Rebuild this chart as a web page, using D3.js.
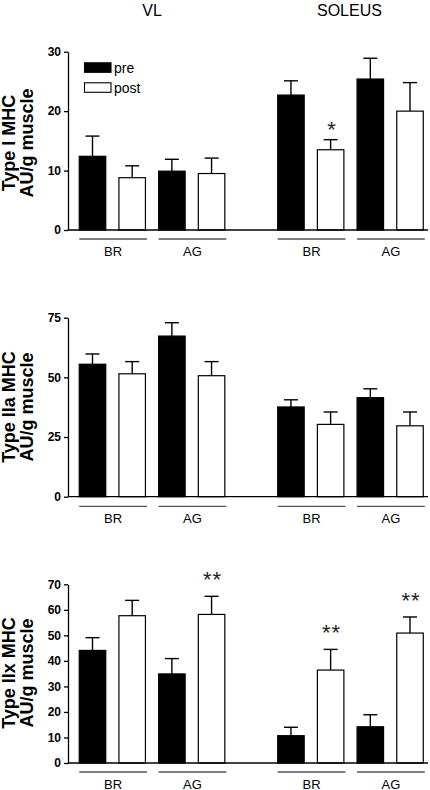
<!DOCTYPE html>
<html>
<head>
<meta charset="utf-8">
<script src="https://cdn.jsdelivr.net/npm/d3@7"></script>
<style>
  html, body { margin: 0; padding: 0; background: #fff; }
  svg { display: block; font-family: "Liberation Sans", Arial, sans-serif; }
</style>
</head>
<body>
<svg id="chart" width="430" height="790"></svg>
<script>
// ---------- data ----------
const muscles = ["VL", "SOLEUS"];
const groups = ["BR", "AG"];
const conditions = ["pre", "post"];
// bar order: VL-BR-pre, VL-BR-post, VL-AG-pre, VL-AG-post, SOL-BR-pre, SOL-BR-post, SOL-AG-pre, SOL-AG-post
const typeI_mean  = [12.4, 8.8, 9.9, 9.5, 22.7, 13.5, 25.4, 20.0];
const typeI_err   = [3.4, 2.0, 2.0, 2.6, 2.4, 1.7, 3.5, 4.8];
const typeI_sig   = ["", "", "", "", "", "*", "", ""];
const typeI_ticks = [0, 10, 20, 30];

const typeIIa_mean  = [55.5, 51.5, 67.3, 50.7, 37.6, 30.3, 41.5, 29.7];
const typeIIa_err   = [4.3, 5.1, 5.6, 5.9, 3.0, 5.2, 3.7, 5.8];
const typeIIa_sig   = ["", "", "", "", "", "", "", ""];
const typeIIa_ticks = [0, 25, 50, 75];

const typeIIx_mean  = [44.1, 57.7, 34.9, 58.2, 10.7, 36.4, 14.2, 50.9];
const typeIIx_err   = [5.0, 6.0, 6.0, 7.1, 3.3, 8.1, 4.7, 6.3];
const typeIIx_sig   = ["", "", "", "**", "", "**", "", "**"];
const typeIIx_ticks = [0, 10, 20, 30, 40, 50, 60, 70];

const yLabels = [["Type I MHC", "AU/g muscle"], ["Type IIa MHC", "AU/g muscle"], ["Type IIx MHC", "AU/g muscle"]];

// ---------- layout ----------
const svg = d3.select("#chart");
const axisX = 68;
const rightEdge = 428;
const barW = 26.5;

// slot index for each bar (slot 4 is the gap between muscles)
const slots = [0, 1, 2, 3, 5, 6, 7, 8];
const x = d3.scaleLinear().domain([0, 8]).range([92.5, 410]);

function buildBars(mean, err, sig) {
  const out = [];
  let k = 0;
  muscles.forEach((m) => groups.forEach((g) => conditions.forEach((c) => {
    out.push({ muscle: m, group: g, cond: c, slot: slots[k], mean: mean[k], err: err[k], sig: sig[k] });
    k++;
  })));
  return out;
}

const panels = [
  { mean: typeI_mean, err: typeI_err, sig: typeI_sig, ticks: typeI_ticks, y0: 230, y1: 51.7, labelY: 143, groupLineY: 239, legend: true },
  { mean: typeIIa_mean, err: typeIIa_err, sig: typeIIa_sig, ticks: typeIIa_ticks, y0: 496.7, y1: 317.7, labelY: 407, groupLineY: 506.3, legend: false },
  { mean: typeIIx_mean, err: typeIIx_err, sig: typeIIx_sig, ticks: typeIIx_ticks, y0: 763, y1: 584.3, labelY: 673, groupLineY: 772, legend: false }
];

// titles
svg.append("text").attr("x", x(1.5)).attr("y", 16).attr("text-anchor", "middle")
  .attr("font-size", 16).text(muscles[0]);
svg.append("text").attr("x", x(6.5) - 1).attr("y", 16).attr("text-anchor", "middle")
  .attr("font-size", 16).text(muscles[1]);

panels.forEach((p, pi) => {
  const ticks = p.ticks;
  const y = d3.scaleLinear().domain([0, ticks[ticks.length - 1]]).range([p.y0, p.y1]);
  const g = svg.append("g");
  const bars = buildBars(p.mean, p.err, p.sig);

  // error bars (upper only)
  const eb = g.append("g").attr("stroke", "#000").attr("stroke-width", 1.4);
  bars.forEach(d => {
    const cx = x(d.slot);
    eb.append("line").attr("x1", cx).attr("x2", cx).attr("y1", y(d.mean)).attr("y2", y(d.mean + d.err));
    eb.append("line").attr("x1", cx - 7).attr("x2", cx + 7).attr("y1", y(d.mean + d.err)).attr("y2", y(d.mean + d.err));
  });

  // bars
  g.selectAll("rect.bar").data(bars).enter().append("rect")
    .attr("class", "bar")
    .attr("x", d => x(d.slot) - barW / 2)
    .attr("y", d => y(d.mean))
    .attr("width", barW)
    .attr("height", d => y(0) - y(d.mean))
    .attr("fill", d => d.cond === "pre" ? "#000" : "#fff")
    .attr("stroke", "#000")
    .attr("stroke-width", 1.2);

  // significance
  g.selectAll("text.sig").data(bars.filter(d => d.sig)).enter().append("text")
    .attr("class", "sig")
    .attr("x", d => x(d.slot) + 1)
    .attr("y", d => y(d.mean + d.err) - (pi === 0 ? 3 : 9))
    .attr("text-anchor", "middle")
    .attr("font-size", 22)
    .attr("letter-spacing", d => d.sig.length > 1 ? 1 : 0)
    .attr("fill", "#222")
    .text(d => d.sig);

  // y axis
  const yAxis = d3.axisLeft(y).tickValues(ticks).tickSize(4).tickPadding(3).tickSizeOuter(0);
  const ga = g.append("g").attr("transform", `translate(${axisX},0)`).call(yAxis);
  ga.select(".domain").attr("stroke-width", 1.3);
  ga.selectAll(".tick line").attr("stroke-width", 1.3);
  ga.selectAll("text").attr("font-size", 12).attr("font-weight", "bold")
    .attr("font-family", "'Liberation Sans', Arial, sans-serif");

  // baseline
  g.append("line").attr("x1", axisX).attr("x2", rightEdge).attr("y1", y(0)).attr("y2", y(0))
    .attr("stroke", "#000").attr("stroke-width", 1.3);

  // group underlines and labels
  [0, 2, 5, 7].forEach((s, i) => {
    const xa = x(s) - barW / 2, xb = x(s + 1) + barW / 2 + 1.5;
    g.append("line").attr("x1", xa).attr("x2", xb).attr("y1", p.groupLineY).attr("y2", p.groupLineY)
      .attr("stroke", "#555").attr("stroke-width", 1.3);
    g.append("text").attr("x", (xa + xb) / 2).attr("y", p.groupLineY + 16.5)
      .attr("text-anchor", "middle").attr("font-size", 13).text(groups[i % 2]);
  });

  // y label
  const lab = g.append("text")
    .attr("transform", `translate(1,${p.labelY}) rotate(-90)`)
    .attr("text-anchor", "middle").attr("font-size", 18).attr("font-weight", "bold");
  lab.append("tspan").attr("x", 0).attr("y", 13.5).text(yLabels[pi][0]);
  lab.append("tspan").attr("x", 0).attr("y", 32).text(yLabels[pi][1]);

  // legend
  if (p.legend) {
    const lg = g.append("g");
    conditions.forEach((c, i) => {
      lg.append("rect").attr("x", 84.5).attr("y", 62.8 + i * 20).attr("width", 26.5).attr("height", 9.5)
        .attr("fill", c === "pre" ? "#000" : "#fff").attr("stroke", "#000").attr("stroke-width", 1.1);
      lg.append("text").attr("x", 114).attr("y", 72.5 + i * 20).attr("font-size", 14).text(c);
    });
  }
});
</script>
</body>
</html>
